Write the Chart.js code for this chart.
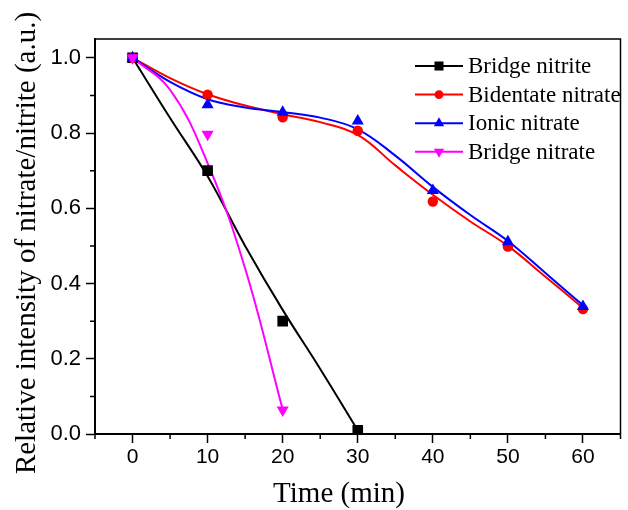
<!DOCTYPE html>
<html><head><meta charset="utf-8">
<script src="https://cdn.jsdelivr.net/npm/chart.js"></script>
<style>html,body{margin:0;padding:0;background:#fff;} #wrap{position:relative;width:628px;height:510px;}</style>
</head><body><div id="wrap"><canvas id="c" width="628" height="510"></canvas></div>
<script>
// ---- data ----
const times = [0, 10, 20, 30, 40, 50, 60];
const seriesNames = ['Bridge nitrite', 'Bidentate nitrate', 'Ionic nitrate', 'Bridge nitrate'];
const bridgeNitrite = [1.0, 0.70, 0.30, 0.01];
const bidentateNitrate = [1.0, 0.902, 0.842, 0.806, 0.618, 0.498, 0.332];
const ionicNitrate = [1.0, 0.875, 0.855, 0.832, 0.647, 0.511, 0.339];
const bridgeNitrate = [1.0, 0.797, 0.064];
// smoothed curves (as drawn in the picture), read every 5 min
const curveTimes = [0, 5, 10, 15, 20, 25, 30, 35, 40, 45, 50, 55, 60];
const bridgeNitriteCurve = [1.0, 0.84, 0.685, 0.50, 0.33, 0.173, 0.01];
const bidentateNitrateCurve = [1.0, 0.946, 0.903, 0.873, 0.850, 0.829, 0.795, 0.714, 0.636, 0.565, 0.500, 0.418, 0.335];
const ionicNitrateCurve = [1.0, 0.936, 0.890, 0.868, 0.856, 0.841, 0.810, 0.740, 0.657, 0.582, 0.513, 0.428, 0.342];
const bridgeNitrateCurve = [1.0, 0.915, 0.72, 0.44, 0.065];
// ticks
const xMajorTicks = [0, 10, 20, 30, 40, 50, 60];
const xMinorTicks = [-5, 5, 15, 25, 35, 45, 55, 65];
const yMajorTicks = [0, 0.2, 0.4, 0.6, 0.8, 1.0];
const yMinorTicks = [0.1, 0.3, 0.5, 0.7, 0.9];
const xTitle = 'Time (min)';
const yTitle = 'Relative intensity of nitrate/nitrite (a.u.)';

// ---- styles ----
const colors = ['#000000', '#ff0000', '#0000ff', '#ff00ff'];
const pointStyles = ['rect', 'circle', 'triangle', 'triangle'];
const pointRotations = [0, 0, 0, 180];
const pointRadii = [7.5, 5.2, 7, 7];
const seriesPoints = [bridgeNitrite, bidentateNitrate, ionicNitrate, bridgeNitrate];
const seriesCurves = [bridgeNitriteCurve, bidentateNitrateCurve, ionicNitrateCurve, bridgeNitrateCurve];
const serif = '"Liberation Serif", "Times New Roman", serif';
const sans = '"Liberation Sans", Arial, sans-serif';

const datasets = [];
seriesNames.forEach((name, i) => {
  datasets.push({
    label: name + ' curve',
    data: seriesCurves[i].map((v, k) => ({x: curveTimes[k], y: v})),
    borderColor: colors[i], borderWidth: 2, pointRadius: 0, fill: false,
    tension: 0.4, order: 100 - i
  });
  datasets.push({
    label: name,
    data: seriesPoints[i].map((v, k) => ({x: times[k], y: v})),
    showLine: false, borderColor: colors[i], backgroundColor: colors[i],
    pointStyle: pointStyles[i], pointRotation: pointRotations[i], pointRadius: pointRadii[i],
    pointBorderWidth: 0, pointHoverRadius: pointRadii[i], order: 50 - i
  });
});

const decorPlugin = {
  id: 'decor',
  afterDraw(chart) {
    const ctx = chart.ctx, a = chart.chartArea, xs = chart.scales.x, ys = chart.scales.y;
    ctx.save();
    // frame top and right
    ctx.strokeStyle = '#000'; ctx.lineWidth = 1.5;
    ctx.beginPath();
    ctx.moveTo(a.left, a.top); ctx.lineTo(a.right, a.top); ctx.lineTo(a.right, a.bottom);
    ctx.stroke();
    // minor ticks
    ctx.lineWidth = 1.5;
    ctx.beginPath();
    xMinorTicks.forEach(v => { const p = xs.getPixelForValue(v); ctx.moveTo(p, a.bottom); ctx.lineTo(p, a.bottom + 5); });
    yMinorTicks.forEach(v => { const p = ys.getPixelForValue(v); ctx.moveTo(a.left, p); ctx.lineTo(a.left - 5, p); });
    ctx.stroke();
    // axis titles
    ctx.fillStyle = '#000';
    ctx.font = '29px ' + serif;
    ctx.textAlign = 'center'; ctx.textBaseline = 'alphabetic';
    ctx.fillText(xTitle, 339, 502);
    ctx.save();
    ctx.translate(35, 243); ctx.rotate(-Math.PI / 2);
    ctx.fillText(yTitle, 0, 0);
    ctx.restore();
    // legend
    const lx0 = 415, lx1 = 463, ltx = 468, ly0 = 66, ldy = 28.6;
    ctx.font = '23px ' + serif; ctx.textAlign = 'left'; ctx.textBaseline = 'middle';
    seriesNames.forEach((name, i) => {
      const y = ly0 + i * ldy;
      ctx.strokeStyle = colors[i]; ctx.lineWidth = 2;
      ctx.beginPath(); ctx.moveTo(lx0, y); ctx.lineTo(lx1, y); ctx.stroke();
      ctx.fillStyle = colors[i];
      Chart.helpers.drawPoint(ctx, {pointStyle: pointStyles[i], rotation: pointRotations[i], radius: pointRadii[i] * 0.85, borderWidth: 0}, (lx0 + lx1) / 2, y);
      ctx.fillStyle = '#000';
      ctx.fillText(name, ltx, y + 1);
    });
    ctx.restore();
  }
};

new Chart(document.getElementById('c'), {
  type: 'line',
  data: {datasets},
  options: {
    responsive: false, animation: false, devicePixelRatio: 1,
    layout: {padding: {top: 39, right: 1, left: 0, bottom: 0}},
    plugins: {legend: {display: false}, tooltip: {enabled: false}},
    scales: {
      x: {
        type: 'linear', min: -5, max: 65,
        afterBuildTicks: s => { s.ticks = xMajorTicks.map(v => ({value: v})); },
        afterFit: s => { s.height = 76; },
        ticks: {font: {family: sans, size: 21}, color: '#000', padding: 2, maxRotation: 0, autoSkip: false,
          callback: v => String(v)},
        grid: {drawOnChartArea: false, drawTicks: true, tickLength: 9, tickColor: '#000', tickWidth: 1.5},
        border: {color: '#000', width: 2},
        title: {display: false}
      },
      y: {
        type: 'linear', min: 0, max: 1.05,
        afterBuildTicks: s => { s.ticks = yMajorTicks.map(v => ({value: v})); },
        afterFit: s => { s.width = 95; },
        ticks: {font: {family: sans, size: 22}, color: '#000', padding: 5, autoSkip: false,
          callback: v => Number(v).toFixed(1)},
        grid: {drawOnChartArea: false, drawTicks: true, tickLength: 9, tickColor: '#000', tickWidth: 1.5},
        border: {color: '#000', width: 2},
        title: {display: false}
      }
    }
  },
  plugins: [decorPlugin]
});
</script></body></html>
